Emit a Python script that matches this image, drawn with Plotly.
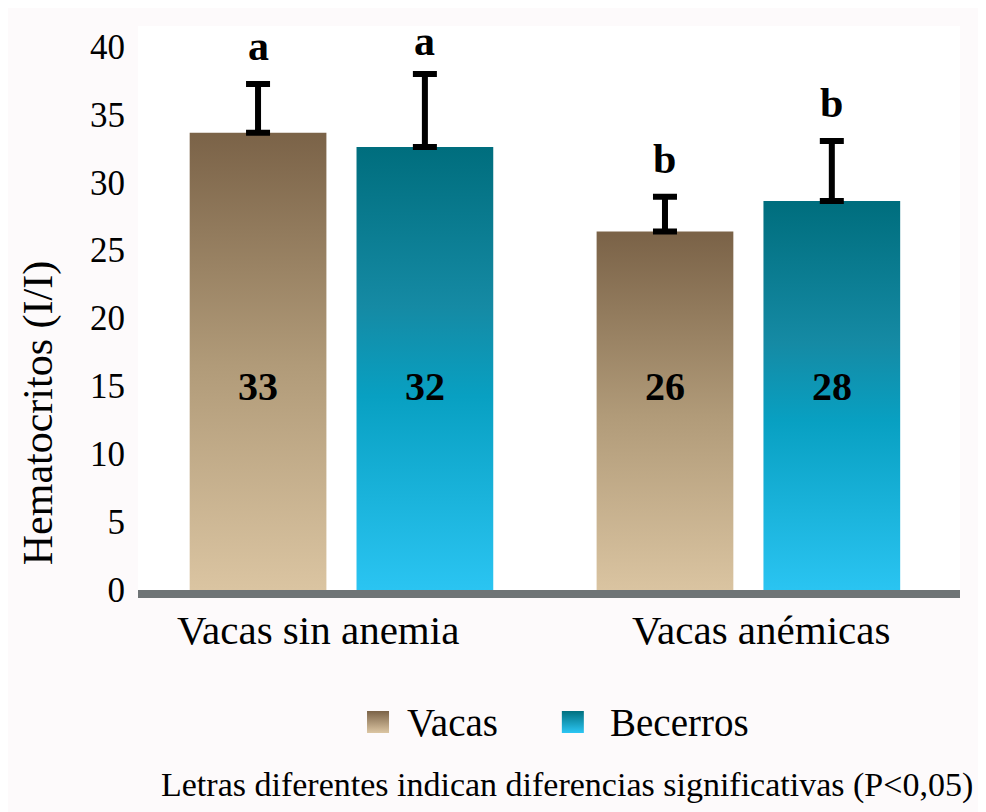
import plotly.graph_objects as go

# ---- data ----
categories = ["Vacas sin anemia", "Vacas anémicas"]
series_names = ["Vacas", "Becerros"]
vacas_values = [33.65, 26.37]
becerros_values = [32.6, 28.62]
vacas_err = [3.58, 2.57]
becerros_err = [5.37, 4.42]
vacas_labels = ["33", "26"]
becerros_labels = ["32", "28"]
vacas_letters = ["a", "b"]
becerros_letters = ["a", "b"]
y_ticks = [0, 5, 10, 15, 20, 25, 30, 35, 40]

# ---- style ----
SERIF = "Liberation Serif, Times New Roman, serif"
scales = {
    "Vacas": [[0, "#dcc6a3"], [0.5, "#b19b79"], [1, "#7b6348"]],
    "Becerros": [[0, "#2cc6f4"], [0.45, "#08a0c2"], [0.65, "#158aa4"], [1, "#006e7e"]],
}
key_colors = {"Vacas": ("#7b6348", "#dcc6a3"), "Becerros": ("#00707f", "#2cc6f4")}
offsets = {"Vacas": -0.205, "Becerros": 0.205}
bar_w = 0.336
cat_label_shift = [-23, 13]
# legend key placement (fraction of plot width)
legend_key_x = {"Vacas": 0.292, "Becerros": 0.529}
legend_text_x = {"Vacas": 0.325, "Becerros": 0.572}

series = {
    "Vacas": (vacas_values, vacas_err, vacas_labels, vacas_letters),
    "Becerros": (becerros_values, becerros_err, becerros_labels, becerros_letters),
}

fig = go.Figure()
annotations = []

for name, (vals, errs, labs, letters) in series.items():
    xs = []
    for i, v in enumerate(vals):
        xc = i + offsets[name]
        xs.append(xc)
        x0, x1 = xc - bar_w / 2, xc + bar_w / 2
        fig.add_trace(go.Scatter(
            x=[x0, x1, x1, x0, x0], y=[0, 0, v, v, 0],
            mode="lines", line=dict(width=0), fill="toself",
            fillcolor=key_colors[name][0],
            fillgradient=dict(type="vertical", colorscale=scales[name], start=0, stop=v),
            showlegend=False, hoverinfo="skip",
        ))
        annotations.append(dict(
            x=xc, y=15, xref="x", yref="y", text="<b>%s</b>" % labs[i], showarrow=False,
            font=dict(family=SERIF, size=40, color="black"),
        ))
        top = v + errs[i]
        annotations.append(dict(
            x=xc, y=min(top, 37.6), xref="x", yref="y", text="<b>%s</b>" % letters[i],
            showarrow=False, yanchor="bottom", yshift=13,
            font=dict(family=SERIF, size=42, color="black"),
        ))
    # error bars (upper only)
    fig.add_trace(go.Scatter(
        x=xs, y=vals, mode="markers", marker=dict(size=1, color="rgba(0,0,0,0)"),
        error_y=dict(type="data", array=errs, arrayminus=[0] * len(errs), symmetric=False,
                     color="black", thickness=6, width=12),
        showlegend=False, hoverinfo="skip",
    ))
    # legend key (gradient square) + label
    fig.add_trace(go.Scatter(
        x=[legend_key_x[name]], y=[0.433], xaxis="x2", yaxis="y2", mode="markers",
        marker=dict(symbol="square", size=22, color=key_colors[name][0],
                    gradient=dict(type="vertical", color=key_colors[name][1]),
                    line=dict(width=0)),
        showlegend=False, hoverinfo="skip",
    ))
    annotations.append(dict(
        x=legend_text_x[name], y=0.433, xref="x2", yref="y2", xanchor="left", yanchor="middle",
        text=name, showarrow=False, font=dict(family=SERIF, size=39, color="black"),
    ))

for i, c in enumerate(categories):
    annotations.append(dict(
        x=i, y=0, xref="x", yref="y", yanchor="top", yshift=-15, xshift=cat_label_shift[i],
        text=c, showarrow=False, font=dict(family=SERIF, size=41, color="black"),
    ))

annotations.append(dict(
    x=(30 - 130) / 822.0, y=13, xref="paper", yref="y", xanchor="center", yanchor="middle",
    text="Hematocritos (I/I)", textangle=-90, showarrow=False,
    font=dict(family=SERIF, size=42, color="black"),
))
annotations.append(dict(
    x=(967 - 130) / 822.0, y=0.004, xref="paper", yref="paper", xanchor="right", yanchor="middle",
    text="Letras diferentes indican diferencias significativas (P<0,05)", showarrow=False,
    font=dict(family=SERIF, size=34, color="black"),
))

fig.update_layout(
    width=986, height=812,
    margin=dict(l=130, r=34, t=18, b=20),
    paper_bgcolor="#fdfafb", plot_bgcolor="rgba(0,0,0,0)",
    font=dict(family=SERIF, color="black"),
    xaxis=dict(
        domain=[0, 1], anchor="y",
        range=[-0.5, 1.52], showticklabels=False,
        showgrid=False, zeroline=False, showline=True, linecolor="#6f7476", linewidth=8,
        ticks="", fixedrange=True,
    ),
    yaxis=dict(
        domain=[0.260, 1], anchor="x",
        range=[0, 41.5], tickmode="array", tickvals=y_ticks,
        showgrid=False, zeroline=False, showline=False, ticks="",
        tickfont=dict(family=SERIF, size=35, color="black"), ticklabelstandoff=12,
        fixedrange=True,
    ),
    xaxis2=dict(domain=[0, 1], anchor="y2", range=[0, 1], visible=False, fixedrange=True),
    yaxis2=dict(domain=[0, 0.2], anchor="x2", range=[0, 1], visible=False, fixedrange=True),
    shapes=[dict(type="rect", xref="x domain", yref="y domain", x0=0, x1=1, y0=0, y1=1,
                 fillcolor="white", line=dict(width=0), layer="below")],
    annotations=annotations,
    showlegend=False,
)

fig.write_html("out.html")
